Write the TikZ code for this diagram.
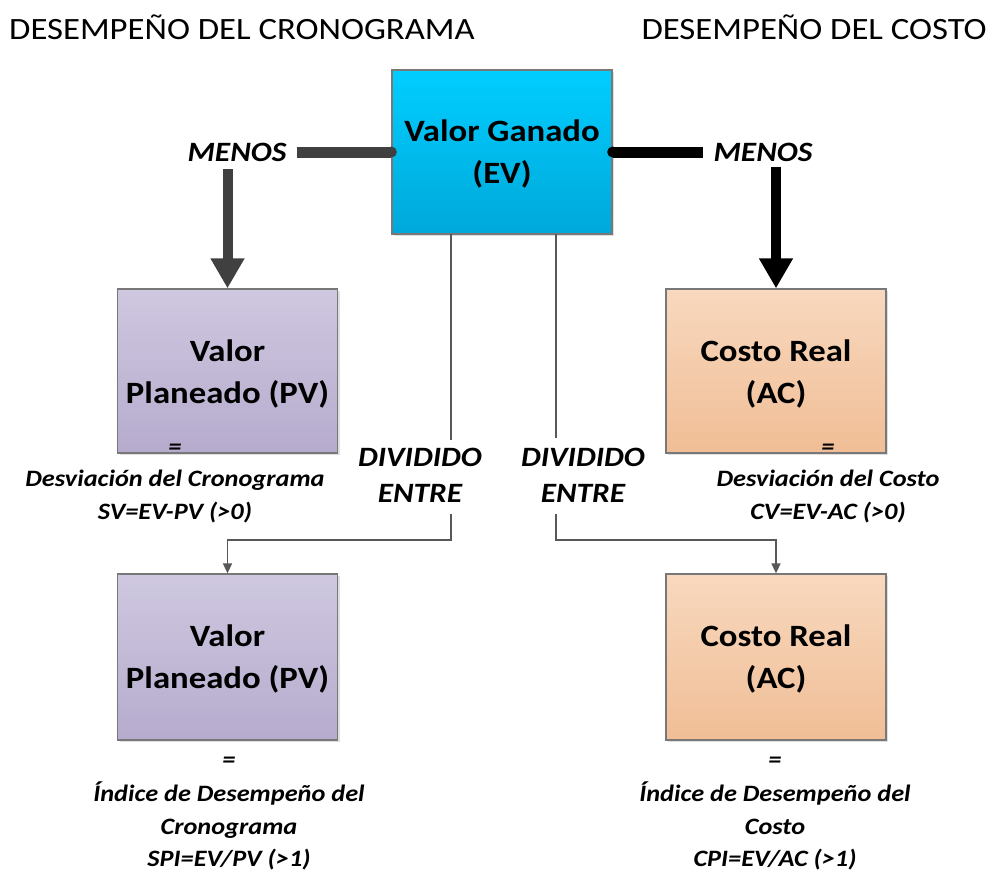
\documentclass[tikz,border=0pt]{standalone}
\usepackage{fontspec}
\setmainfont{Carlito}[FakeStretch=1.12]
\usetikzlibrary{arrows.meta,shadows}
\definecolor{evtop}{RGB}{0,206,255}
\definecolor{evbot}{RGB}{0,168,218}
\definecolor{pvtop}{RGB}{207,200,224}
\definecolor{pvbot}{RGB}{182,171,205}
\definecolor{actop}{RGB}{248,216,190}
\definecolor{acbot}{RGB}{240,190,150}
\definecolor{boxline}{RGB}{120,120,120}
\definecolor{darkbar}{RGB}{64,64,64}
\definecolor{thinline}{RGB}{88,88,88}
\begin{document}
\begin{tikzpicture}[x=1pt,y=-1pt,
  box/.style={draw=boxline, line width=1.3pt, minimum width=220pt, minimum height=164pt,
    align=center, inner sep=0pt, font=\fontsize{31}{42}\selectfont\bfseries,
    drop shadow={shadow xshift=2pt, shadow yshift=-2pt, opacity=0.25}},
  evbox/.style={box, top color=evtop, bottom color=evbot},
  pvbox/.style={box, top color=pvtop, bottom color=pvbot},
  acbox/.style={box, top color=actop, bottom color=acbot},
  boxtext/.style={font=\fontsize{31}{42}\selectfont\bfseries, align=center, inner sep=0pt},
  oplabel/.style={font=\fontsize{28}{36}\selectfont\bfseries\itshape, align=center, inner sep=0pt},
  result/.style={font=\fontsize{23.5}{33}\selectfont\bfseries\itshape, align=center, inner sep=0pt},
  title/.style={font=\fontsize{31}{36}\selectfont, inner sep=0pt},
  thickbar/.style={line width=11pt},
  bigarrow/.style={line width=10pt, -{Triangle[width=32pt,length=30pt]}},
  thin/.style={draw=thinline, line width=1.6pt},
  thinarrow/.style={thin, -{Triangle[width=9pt,length=10pt]}}
]
\useasboundingbox (0,0) rectangle (992,873);

% titles
\node[title, anchor=west] (t1) at (9,27) {DESEMPEÑO DEL CRONOGRAMA};
\node[title, anchor=east] (t2) at (987,27) {DESEMPEÑO DEL COSTO};

% boxes
\node[evbox] (ev) at (502,152) {};
\node[boxtext] (evt) at (502,154) {Valor Ganado\\(EV)};
\node[pvbox] (pv1) at (227.5,371) {};
\node[boxtext] (pv1t) at (227.5,374) {Valor\\Planeado (PV)};
\node[acbox] (ac1) at (776,371) {};
\node[boxtext] (ac1t) at (776,374) {Costo Real\\(AC)};
\node[pvbox, minimum height=166pt] (pv2) at (227.5,657) {};
\node[boxtext] (pv2t) at (227.5,659) {Valor\\Planeado (PV)};
\node[acbox, minimum height=166pt] (ac2) at (776,657) {};
\node[boxtext] (ac2t) at (776,659) {Costo Real\\(AC)};

% operator labels
\node[oplabel] (menosL) at (237,152) {MENOS};
\node[oplabel] (menosR) at (763,152) {MENOS};
\node[oplabel] (divL) at (420,475) {DIVIDIDO\\ENTRE};
\node[oplabel] (divR) at (583,475) {DIVIDIDO\\ENTRE};

% results
\node[result] (eq1) at (175,449) {=};
\node[result] (res1) at (175,497) {Desviación del Cronograma\\SV=EV-PV (>0)};
\node[result] (eq2) at (828,449) {=};
\node[result] (res2) at (828,497) {Desviación del Costo\\CV=EV-AC (>0)};
\node[result] (eq3) at (229,762) {=};
\node[result, font=\fontsize{23.5}{32.5}\selectfont\bfseries\itshape] (res3) at (229,826) {Índice de Desempeño del\\Cronograma\\SPI=EV/PV (>1)};
\node[result] (eq4) at (775,762) {=};
\node[result, font=\fontsize{23.5}{32.5}\selectfont\bfseries\itshape] (res4) at (775,826) {Índice de Desempeño del\\Costo\\CPI=EV/AC (>1)};

% thick MENOS connectors
\draw[thickbar, darkbar] ([xshift=10pt]menosL.east |- ev.west) -- (ev.west);
\fill[darkbar] (ev.west) circle (5.5pt);
\draw[bigarrow, darkbar] ([yshift=-8pt]menosL.south -| pv1.north) -- (pv1.north);
\draw[thickbar, black] (ev.east) -- ([xshift=-10pt]menosR.west |- ev.east);
\fill[black] (ev.east) circle (5.5pt);
\draw[bigarrow, black] ([yshift=-6pt]menosR.south -| ac1.north) -- (ac1.north);

% DIVIDIDO ENTRE connectors
\coordinate (l1) at (451,234);
\coordinate (l2) at (451,440);
\coordinate (l3) at (451,514);
\coordinate (r1) at (556,234);
\coordinate (r2) at (556,438);
\coordinate (r3) at (556,514);
\draw[thin] (l1) -- (l2);
\draw[thinarrow] (l3) -- (451,540) -| (pv2.north);
\draw[thin] (r1) -- (r2);
\draw[thinarrow] (r3) -- (556,540) -| (ac2.north);
\end{tikzpicture}
\end{document}
